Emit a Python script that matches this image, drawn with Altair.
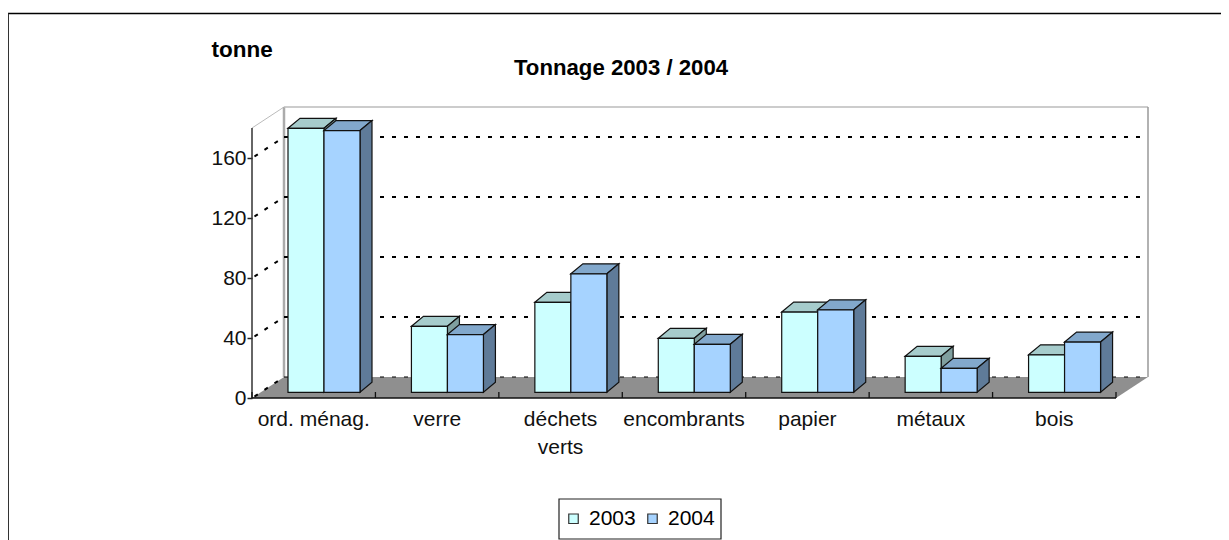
import altair as alt
import pandas as pd

categories = ["ord. ménag.", "verre", "déchets verts", "encombrants", "papier", "métaux", "bois"]
label_lines = [["ord. ménag."], ["verre"], ["déchets", "verts"], ["encombrants"], ["papier"], ["métaux"], ["bois"]]
years = ["2003", "2004"]
v2003 = [176, 44, 60, 36, 53.5, 24, 25]
v2004 = [174.5, 38.5, 79, 32, 55, 16, 33.5]
y_ticks = [0, 40, 80, 120, 160]
chart_title = "Tonnage 2003 / 2004"

CAT_PX = 864 / 7
PX_Y = 1.5
WALL_X = 32 / CAT_PX
WALL_Y = 21 / PX_Y
BAR_DX = 12 / CAT_PX
BAR_DY = 10 / PX_Y
BASE = 5.7 / PX_Y
GAP = 36 / CAT_PX
BAR_W = 36 / CAT_PX
N = len(categories)
FONT = "Liberation Sans"

xs = alt.Scale(domain=[0, 896 / CAT_PX], nice=False, zero=False)
ys = alt.Scale(domain=[0, 200], nice=False, zero=False)
X = alt.X("x:Q", scale=xs, axis=None)
Y = alt.Y("y:Q", scale=ys, axis=None)


def line(points, color, width, dash=None):
    df = pd.DataFrame([{"x": p[0], "y": p[1], "i": i} for i, p in enumerate(points)])
    kw = dict(color=color, strokeWidth=width, clip=False)
    if dash:
        kw["strokeDash"] = dash
    return alt.Chart(df).mark_line(**kw).encode(X, Y, order="i:Q")


def bar_rows(year_index, values):
    rows = []
    for i, v in enumerate(values):
        x0 = i + GAP + year_index * BAR_W
        rows.append({"x0": x0, "x1": x0 + BAR_W, "top": BASE + v, "base": BASE, "year": years[year_index]})
    return rows


def faces(rows, top_fill, side_fill):
    top, side = [], []
    for k, r in enumerate(rows):
        t = r["top"]
        top += [
            {"k": k, "x": r["x0"], "y": t, "y2": t},
            {"k": k, "x": r["x0"] + BAR_DX, "y": t + BAR_DY, "y2": t},
            {"k": k, "x": r["x1"], "y": t + BAR_DY, "y2": t},
            {"k": k, "x": r["x1"] + BAR_DX, "y": t + BAR_DY, "y2": t + BAR_DY},
        ]
        side += [
            {"k": k, "x": r["x1"], "y": t, "y2": r["base"]},
            {"k": k, "x": r["x1"] + BAR_DX, "y": t + BAR_DY, "y2": r["base"] + BAR_DY},
        ]
    out = []
    for d, fill in ((top, top_fill), (side, side_fill)):
        out.append(
            alt.Chart(pd.DataFrame(d))
            .mark_area(fill=fill, stroke="#111111", strokeWidth=1.2, clip=False)
            .encode(X, Y, y2="y2:Q", detail="k:N")
        )
    return out


color = alt.Color(
    "year:N",
    scale=alt.Scale(domain=years, range=["#CCFFFF", "#A6D3FF"]),
    legend=alt.Legend(
        title=None,
        orient="none",
        legendX=307,
        legendY=406,
        direction="horizontal",
        columns=2,
        symbolType="square",
        symbolSize=90,
        symbolStrokeColor="#333333",
        symbolStrokeWidth=1.2,
        labelFont=FONT,
        labelFontSize=21,
        labelColor="black",
        labelOffset=5,
        columnPadding=6,
        padding=4,
    ),
)


def fronts(rows):
    return (
        alt.Chart(pd.DataFrame(rows))
        .mark_rect(stroke="#111111", strokeWidth=1.2, clip=False)
        .encode(
            x=alt.X("x0:Q", scale=xs, axis=None),
            x2="x1:Q",
            y=alt.Y("top:Q", scale=ys, axis=None),
            y2="base:Q",
            color=color,
        )
    )


dummy = pd.DataFrame({"a": [0]})

frame = [
    alt.Chart(dummy).mark_rule(color="black", strokeWidth=1.5, clip=False).encode(
        x=alt.value(-244), x2=alt.value(969), y=alt.value(-84.5)
    ),
    alt.Chart(dummy).mark_rule(color="#333333", strokeWidth=2, clip=False).encode(
        x=alt.value(-244), y=alt.value(-84.5), y2=alt.value(442)
    ),
    alt.Chart(dummy).mark_rect(filled=False, stroke="#222222", strokeWidth=1.2, clip=False).encode(
        x=alt.value(307), x2=alt.value(469), y=alt.value(401), y2=alt.value(441)
    ),
]

floor_df = pd.DataFrame(
    [
        {"x": 0, "y": 0, "y2": 0},
        {"x": WALL_X, "y": WALL_Y, "y2": 0},
        {"x": N, "y": WALL_Y, "y2": 0},
        {"x": N + WALL_X, "y": WALL_Y, "y2": WALL_Y},
    ]
)
floor = alt.Chart(floor_df).mark_area(fill="#8F8F8F", clip=False).encode(X, Y, y2="y2:Q")

# y axis lives on this invisible layer
axis_layer = (
    alt.Chart(pd.DataFrame({"y": y_ticks}))
    .mark_point(opacity=0, clip=False)
    .encode(
        x=alt.value(0),
        y=alt.Y(
            "y:Q",
            scale=ys,
            axis=alt.Axis(
                values=y_ticks,
                title="tonne",
                titleAngle=0,
                titleX=-41,
                titleY=-49,
                titleAlign="left",
                titleBaseline="middle",
                titleFont=FONT,
                titleFontSize=22.5,
                titleFontWeight="bold",
                titleColor="black",
                labelFont=FONT,
                labelFontSize=21,
                labelColor="#111111",
                labelPadding=1,
                domain=False,
                grid=False,
                ticks=True,
                tickSize=5,
                tickColor="#222222",
                tickWidth=1.5,
            ),
        ),
    )
)

walls = [
    line([(0, 180), (WALL_X, 180 + WALL_Y)], "#BBBBBB", 1),
    line([(WALL_X, WALL_Y), (WALL_X, 180 + WALL_Y)], "#ABABAB", 2.5),
    line([(WALL_X, 180 + WALL_Y), (N + WALL_X, 180 + WALL_Y)], "#BBBBBB", 1.5),
    line([(N + WALL_X, WALL_Y), (N + WALL_X, 180 + WALL_Y)], "#999999", 1.5),
]

grid = []
for t in y_ticks:
    grid.append(line([(0.02, t + 1), (WALL_X, t + WALL_Y)], "black", 2, [4, 8]))
    grid.append(line([(WALL_X, t + WALL_Y), (N + WALL_X - 0.04, t + WALL_Y)], "black", 2 if t else 1.2, [4, 8]))

axes = [
    line([(0, 0), (0, 180)], "#333333", 1.5),
    line([(0, 0), (N, 0)], "#111111", 1.5),
]
x_ticks = []
for i in range(N + 1):
    x_ticks.append(line([(i, 0), (i, 4)], "#111111", 1.3))

labels_rows = []
for i, lines in enumerate(label_lines):
    for j, text in enumerate(lines):
        labels_rows.append({"x": i + 0.5, "y": -14.5 - 18.8 * j, "t": text})
labels = (
    alt.Chart(pd.DataFrame(labels_rows))
    .mark_text(font=FONT, fontSize=21, color="#111111", baseline="middle", align="center", clip=False)
    .encode(X, Y, text="t:N")
)

title_layer = (
    alt.Chart(pd.DataFrame({"x": [369 / CAT_PX], "y": [220], "t": [chart_title]}))
    .mark_text(font=FONT, fontSize=22.2, fontWeight="bold", color="black", baseline="middle", align="center", clip=False)
    .encode(X, Y, text="t:N")
)

rows03 = bar_rows(0, v2003)
rows04 = bar_rows(1, v2004)

layers = (
    frame
    + walls
    + [floor]
    + grid
    + axes
    + x_ticks
    + [axis_layer]
    + [labels, title_layer]
    + faces(rows03, "#A6CCCC", "#7F9F9F")
    + [fronts(rows03)]
    + faces(rows04, "#82A8CC", "#5F7B99")
    + [fronts(rows04)]
)

chart = (
    alt.layer(*layers)
    .resolve_scale(x="shared", y="shared", color="shared")
    .resolve_axis(y="independent")
    .properties(
        width=896,
        height=300,
        autosize="none",
        padding={"left": 244, "top": 90, "right": 73, "bottom": 142},
    )
    .configure_view(stroke=None)
)

chart.save("out.html", embed_options={"renderer": "svg", "actions": False})
